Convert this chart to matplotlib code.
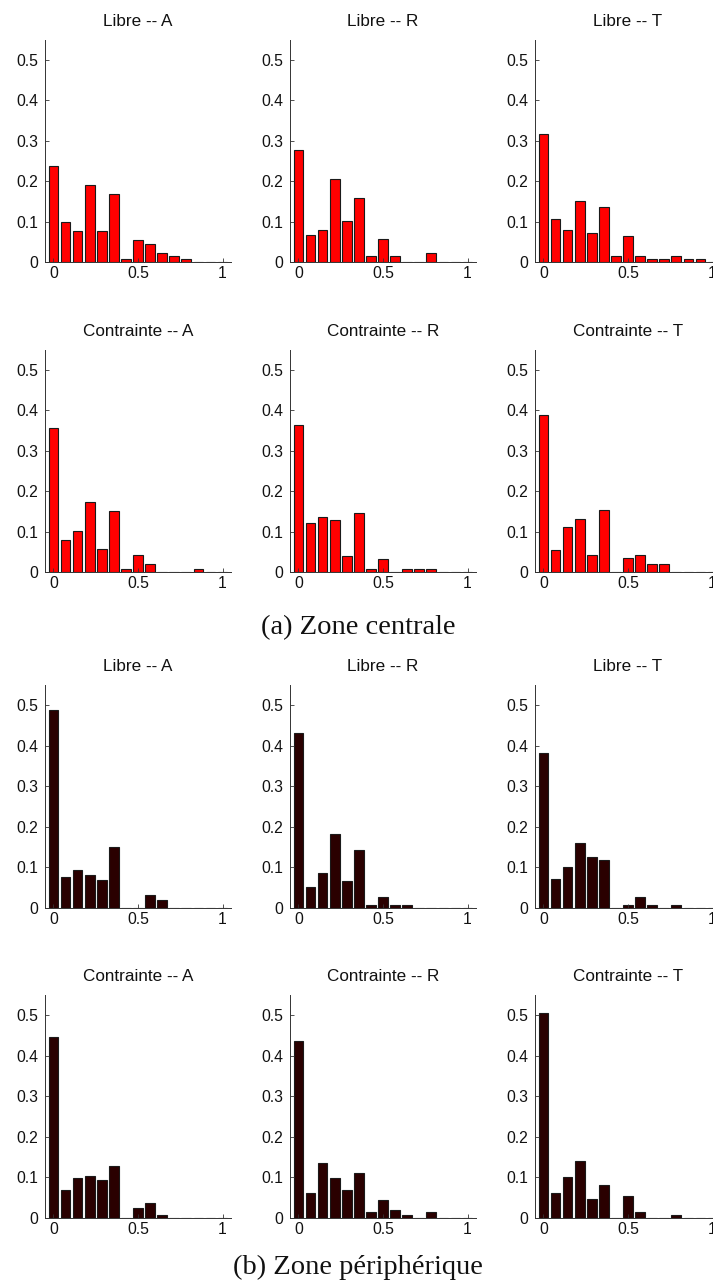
import matplotlib
matplotlib.use("Agg")
import matplotlib.pyplot as plt

# Bin centres (15 bins over [0, 1])
bin_centers = [k / 14 for k in range(15)]

# (a) Zone centrale
central_libre_A = [0.237, 0.100, 0.077, 0.192, 0.077, 0.169, 0.008, 0.054, 0.046, 0.023, 0.016, 0.008, 0, 0, 0]
central_libre_R = [0.277, 0.067, 0.081, 0.205, 0.103, 0.160, 0.015, 0.058, 0.015, 0, 0, 0.022, 0, 0, 0]
central_libre_T = [0.317, 0.108, 0.080, 0.151, 0.072, 0.137, 0.015, 0.066, 0.015, 0.008, 0.008, 0.015, 0.008, 0.008, 0]
central_contr_A = [0.356, 0.081, 0.102, 0.174, 0.058, 0.152, 0.008, 0.044, 0.021, 0, 0, 0, 0.008, 0, 0]
central_contr_R = [0.363, 0.121, 0.137, 0.129, 0.040, 0.146, 0.008, 0.033, 0, 0.008, 0.008, 0.008, 0, 0, 0]
central_contr_T = [0.389, 0.056, 0.111, 0.132, 0.042, 0.153, 0, 0.035, 0.042, 0.021, 0.021, 0, 0, 0, 0]

# (b) Zone périphérique
periph_libre_A = [0.488, 0.075, 0.093, 0.081, 0.069, 0.149, 0, 0, 0.032, 0.019, 0, 0, 0, 0, 0]
periph_libre_R = [0.433, 0.052, 0.085, 0.182, 0.066, 0.142, 0.007, 0.026, 0.007, 0.007, 0, 0, 0, 0, 0]
periph_libre_T = [0.382, 0.072, 0.100, 0.159, 0.126, 0.119, 0, 0.007, 0.026, 0.007, 0, 0.007, 0, 0, 0]
periph_contr_A = [0.446, 0.068, 0.098, 0.104, 0.093, 0.128, 0, 0.025, 0.036, 0.007, 0, 0, 0, 0, 0]
periph_contr_R = [0.436, 0.062, 0.136, 0.099, 0.068, 0.111, 0.013, 0.044, 0.019, 0.007, 0, 0.013, 0, 0, 0]
periph_contr_T = [0.505, 0.061, 0.100, 0.140, 0.047, 0.080, 0, 0.053, 0.013, 0, 0, 0.007, 0, 0, 0]

titles = ["Libre -- A", "Libre -- R", "Libre -- T",
          "Contrainte -- A", "Contrainte -- R", "Contrainte -- T"]
x_ticks = [0, 0.5, 1]
x_ticklabels = ["0", "0.5", "1"]
y_ticks = [0, 0.1, 0.2, 0.3, 0.4, 0.5]
y_ticklabels = ["0", "0.1", "0.2", "0.3", "0.4", "0.5"]

captions = ["(a) Zone centrale", "(b) Zone périphérique"]

rows = [
    ([central_libre_A, central_libre_R, central_libre_T], "#ff0000"),
    ([central_contr_A, central_contr_R, central_contr_T], "#ff0000"),
    ([periph_libre_A, periph_libre_R, periph_libre_T], "#2a0000"),
    ([periph_contr_A, periph_contr_R, periph_contr_T], "#2a0000"),
]

W, H = 713, 1286
fig = plt.figure(figsize=(W / 100, H / 100), dpi=100)
fig.patch.set_facecolor("white")

col_left = [45, 290, 535]
row_zero = [262.3, 572.3, 907.7, 1217.7]
ax_w, ax_h = 186, 222.5

font = ["Liberation Sans", "DejaVu Sans"]

for r, (series_list, color) in enumerate(rows):
    for c, vals in enumerate(series_list):
        bottom_px = H - row_zero[r]
        ax = fig.add_axes([col_left[c] / W, bottom_px / H, ax_w / W, ax_h / H])
        ax.bar(bin_centers, vals, width=0.8 / 14, color=color,
               edgecolor="#1a1a1a", linewidth=0.8, clip_on=True)
        ax.set_xlim(-0.05, 1.05)
        ax.set_ylim(0, 0.55)
        ax.set_xticks(x_ticks)
        ax.set_xticklabels(x_ticklabels, family=font, fontsize=11.3)
        ax.set_yticks(y_ticks)
        ax.set_yticklabels(y_ticklabels, family=font, fontsize=11.3)
        ax.tick_params(direction="in", length=3, width=0.6, color="#333333",
                       labelcolor="#111111")
        ax.tick_params(axis="y", pad=5)
        ax.tick_params(axis="x", pad=3)
        for s in ["top", "right"]:
            ax.spines[s].set_visible(False)
        for s in ["left", "bottom"]:
            ax.spines[s].set_color("#333333")
            ax.spines[s].set_linewidth(0.7)
        ax.set_title(titles[(r % 2) * 3 + c], family=font, fontsize=12.3,
                     pad=10, color="#111111")

fig.text(358 / W, 1 - 628 / H, captions[0], ha="center", va="center",
         family=["Liberation Serif", "DejaVu Serif"], fontsize=20.5, color="#111111")
fig.text(358 / W, 1 - 1267 / H, captions[1], ha="center", va="center",
         family=["Liberation Serif", "DejaVu Serif"], fontsize=20.5, color="#111111")

fig.savefig("out.png", dpi=100, facecolor="white")
